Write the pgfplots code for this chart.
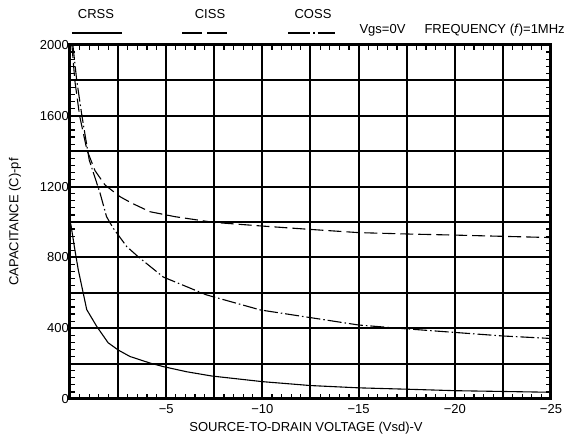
\documentclass[border=0pt]{standalone}
\usepackage{pgfplots}
\pgfplotsset{compat=1.18}
\usepackage{fontspec}
\setmainfont{Liberation Sans}

% capacitance curves
\pgfplotstableread{
v      c
-0.04  990
-0.25  845
-0.43  730
-0.87  505
-1.39  410
-1.98  318
-2.50  277
-3.12  240
-4.16  203
-4.85  183
-6.06  154
-7.36  130
-10.0  98
-12.5  76
-15.0  63
-17.6  55
-20.0  47
-25.0  38
}\crss
\pgfplotstableread{
v      c
-0.10  2000
-0.25  1800
-0.50  1600
-0.88  1407
-1.30  1290
-1.82  1209
-2.60  1143
-3.20  1107
-4.16  1058
-5.46  1030
-7.46  998
-10.0  977
-12.5  958
-15.0  940
-17.6  932
-20.0  926
-25.0  912
}\ciss
\pgfplotstableread{
v      c
-0.15  2000
-0.35  1800
-0.62  1600
-1.00  1350
-1.56  1164
-1.90  1030
-2.24  966
-2.95  861
-3.54  804
-4.85  689
-7.10  588
-9.90  503
-15.0  418
-17.4  397
-22.5  356
-25.0  342
}\coss

\begin{document}
\fontsize{13}{15}\selectfont
\begin{tikzpicture}[x=1pt,y=1pt]
\useasboundingbox (-70,-47) rectangle (500,399);
\begin{axis}[
  at={(0,0)}, anchor=south west,
  scale only axis, width=481pt, height=354pt,
  x dir=reverse,
  xmin=-25, xmax=0, ymin=0, ymax=2000,
  xtick={0,-2.5,-5,-7.5,-10,-12.5,-15,-17.5,-20,-22.5,-25},
  xticklabels={,,−5,,−10,,−15,,−20,,−25},
  ytick={0,200,400,600,800,1000,1200,1400,1600,1800,2000},
  yticklabels={0,,400,,800,,1200,,1600,,2000},
  minor x tick num=4, minor y tick num=4,
  major tick length=0pt, minor tick length=5pt,
  minor tick style={line width=1.2pt, black},
  grid=major,
  major grid style={black, line width=2pt},
  axis line style={line width=3pt},
  xticklabel style={yshift=-1pt},
  yticklabel style={inner xsep=1pt},
]
\addplot[black, line width=1.1pt] table[x=v, y=c] {\crss};
\addplot[black, line width=1.1pt, dash pattern=on 13pt off 5pt] table[x=v, y=c] {\ciss};
\addplot[black, line width=1.1pt, dash pattern=on 14pt off 3pt on 1.5pt off 3pt] table[x=v, y=c] {\coss};
\end{axis}
% axis titles
\node at (236,-29) {SOURCE-TO-DRAIN VOLTAGE (Vsd)-V};
\node[rotate=90] at (-55,177) {CAPACITANCE (C)-pf};
% legend above the frame
\node at (26,385) {CRSS};
\node at (140,385) {CISS};
\node at (243,385) {COSS};
\draw[line width=1.1pt] (2,366) -- (52,366);
\draw[line width=1.1pt, dash pattern=on 20pt off 5pt] (112,366) -- (157,366);
\draw[line width=1.1pt, dash pattern=on 22pt off 3pt on 1.5pt off 3pt] (218,366) -- (265,366);
\node[anchor=west] at (285,369) {Vgs=0V};
\node[anchor=west] at (350,369) {FREQUENCY (\textit{f})=1MHz};
\end{tikzpicture}
\end{document}
